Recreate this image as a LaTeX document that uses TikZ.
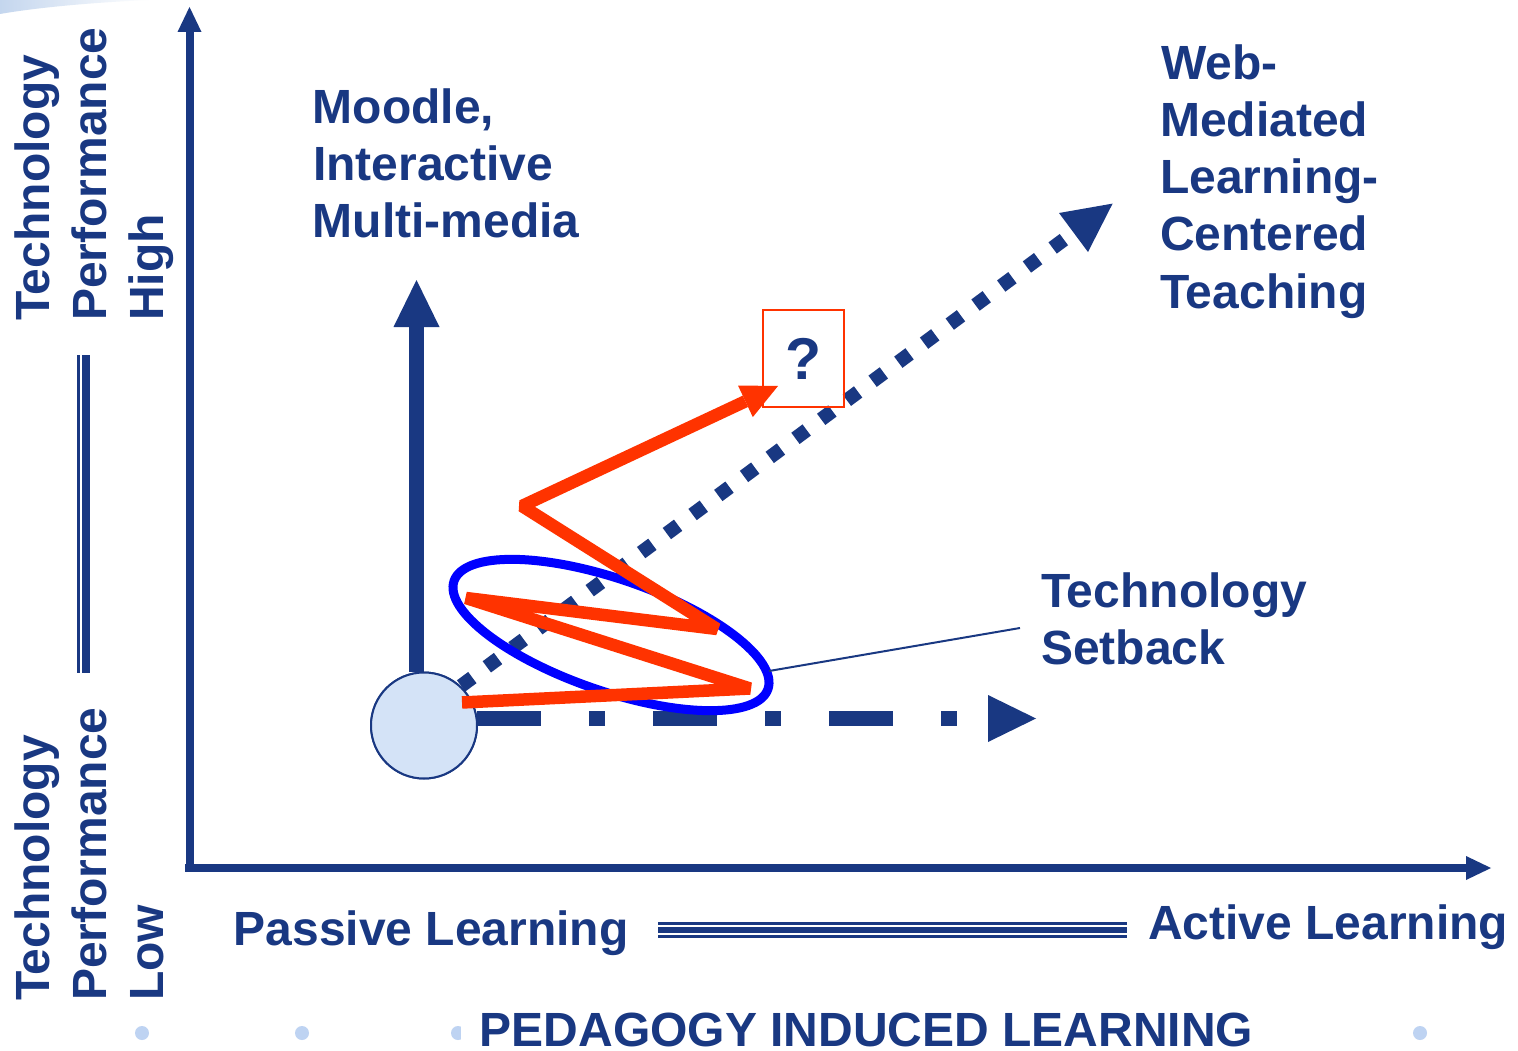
\documentclass[tikz,border=0pt]{standalone}
\usepackage{fontspec}
\setmainfont{Liberation Sans}
\definecolor{dblue}{RGB}{25,56,130}
\definecolor{redo}{RGB}{255,51,0}
\definecolor{eblue}{RGB}{0,0,255}
\definecolor{cfill}{RGB}{212,227,247}
\definecolor{dotc}{RGB}{190,211,242}
\definecolor{swoosh}{RGB}{196,214,238}
\begin{document}
\begin{tikzpicture}[x=1pt,y=-1pt,
  lbl/.style={text=dblue, font=\fontsize{48}{57}\selectfont\bfseries, inner sep=0pt, anchor=base west},
  rlbl/.style={lbl, rotate=90},
  axisline/.style={draw=dblue, line width=8pt},
  tipfill/.style={fill=dblue, draw=none},
  redline/.style={draw=redo, line width=12.5pt, line join=bevel},
  dotmark/.style={fill=dotc, draw=none}]
\useasboundingbox (0,0) rectangle (1518,1051);
\fill[white] (0,0) rectangle (1518,1051);

% top-left swoosh
\shade[left color=swoosh, right color=white] (0,0) -- (150,0) .. controls (100,2) and (40,7) .. (0,14) -- cycle;

% axes
\coordinate (origin) at (189.5,868);
\coordinate (ytop) at (189.5,32);
\coordinate (xright) at (1466,868);
\draw[axisline] (189.5,872) -- (ytop);
\fill[tipfill] (177.5,32) -- (189.5,7) -- (201.5,32) -- cycle;
\draw[axisline] (185,868) -- (xright);
\fill[tipfill] (1466,856) -- (1491,868) -- (1466,880) -- cycle;

% left vertical double line
\draw[dblue, line width=2.7pt] (78.7,355) -- (78.7,673);
\draw[dblue, line width=7.7pt] (86.2,355) -- (86.2,673);

% horizontal triple line
\draw[dblue, line width=2.7pt] (658,923.3) -- (1127,923.3);
\draw[dblue, line width=5.3pt] (658,930) -- (1127,930);
\draw[dblue, line width=2.7pt] (658,936.7) -- (1127,936.7);

% rotated axis labels
\node[rlbl] (th1) at (49.5,321) {Technology};
\node[rlbl] (th2) at (106.5,321) {Performance};
\node[rlbl] (th3) at (163.5,321) {High};
\node[rlbl] (tl1) at (49.5,1001) {Technology};
\node[rlbl] (tl2) at (106.5,1001) {Performance};
\node[rlbl] (tl3) at (163.5,1001) {Low};

% bottom labels
\node[lbl] (passive) at (233.5,945) {Passive Learning};
\node[lbl] (active) at (1148,939) {Active Learning};
\fill[dotmark] (142,1033) circle (7pt);
\fill[dotmark] (302,1033) circle (7pt);
\fill[dotmark] (458,1033) circle (7pt);
\fill[dotmark] (1420,1033) circle (7pt);
\fill[white] (461,1008) rectangle (1262,1051);
\node[lbl] (pedagogy) at (479.5,1046) {PEDAGOGY INDUCED LEARNING};

% text blocks
\node[lbl] (m1) at (312.5,124) {Moodle,};
\node[lbl] (m2) at (313,181) {Interactive};
\node[lbl] (m3) at (312.5,238) {Multi-media};
\node[lbl] (w1) at (1161,80) {Web-};
\node[lbl] (w2) at (1160,137) {Mediated};
\node[lbl] (w3) at (1160,194) {Learning-};
\node[lbl] (w4) at (1160,251) {Centered};
\node[lbl] (w5) at (1160,308) {Teaching};
\node[lbl] (s1) at (1041,607) {Technology};
\node[lbl] (s2) at (1041,664) {Setback};

% start circle (node)
\node[circle, draw=dblue, fill=cfill, line width=2pt, minimum size=106pt, inner sep=0pt] (circ) at (424,725.5) {};

% diagonal dotted arrow
\coordinate (dstart) at (461.1,685.9);
\coordinate (dbase) at (1073.5,232.5);
\draw[dblue, line width=14pt, dash pattern=on 14pt off 18pt] (dstart) -- (dbase);
\fill[tipfill] (1059,213) -- (1112.6,203.6) -- (1088,252) -- cycle;

% vertical thick arrow
\coordinate (vbase) at (416.5,327);
\draw[dblue, line width=15pt] (vbase |- circ.north) -- (vbase);
\fill[tipfill] (393.5,327) -- (416.5,280) -- (439.5,327) -- cycle;

% horizontal dash-dot arrow
\coordinate (hstart) at (477,718.5);
\coordinate (hbase) at (988,718.5);
\draw[dblue, line width=15pt, dash pattern=on 64pt off 48pt on 16pt off 48pt] (hstart) -- (hbase);
\fill[tipfill] (988,695) -- (1036,718.5) -- (988,742) -- cycle;

% redraw circle on top of line starts
\node[circle, draw=dblue, fill=cfill, line width=2pt, minimum size=106pt, inner sep=0pt] at (circ) {};

% question box
\node[draw=redo, line width=2.3pt, minimum width=81pt, minimum height=97pt, inner sep=0pt,
      text=dblue, font=\fontsize{59}{59}\selectfont\bfseries] (q) at (803.5,358.5) {?};

% blue ellipse
\draw[eblue, line width=9pt, rotate around={-19:(611,635)}] (611,635) ellipse [x radius=166pt, y radius=56pt];

% setback pointer
\coordinate (sbA) at (769,671);
\coordinate (sbB) at (1020,628);
\draw[dblue, line width=2pt] (sbA) -- (sbB);

% red zigzag arrow
\coordinate (r0) at (462,702.5);
\coordinate (r1) at (750,688.5);
\coordinate (r2) at (466,598);
\coordinate (r3) at (717,629);
\coordinate (r4) at (522,506);
\coordinate (r5) at (745.4,401.3);
\draw[redline] (r0) -- (r1) -- (r2) -- (r3) -- (r4) -- (r5);
\fill[redo] (752.8,417.1) -- (778,386) -- (738,385.5) -- cycle;
\end{tikzpicture}
\end{document}
